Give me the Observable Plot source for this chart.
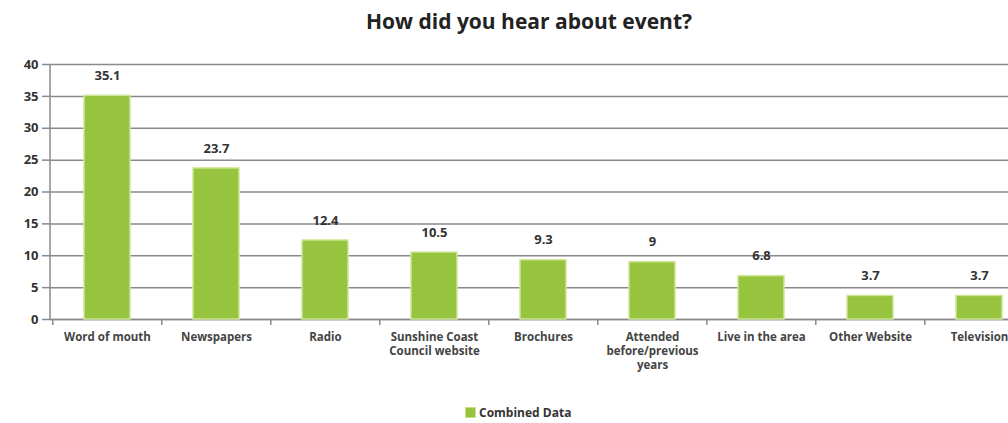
<!DOCTYPE html>
<html><head><meta charset="utf-8">
<script src="https://cdn.jsdelivr.net/npm/d3@7"></script>
<script src="https://cdn.jsdelivr.net/npm/@observablehq/plot@0.6"></script>
<style>
html,body{margin:0;padding:0;background:#fff;overflow:hidden;width:1008px;height:423px;}
#title{position:absolute;left:0;top:7px;width:1058px;text-align:center;font:bold 21px "Open Sans",sans-serif;color:#222;}
#chart{position:absolute;left:0;top:45px;}
#legend{position:absolute;left:465px;top:404px;font:bold 12px "Open Sans",sans-serif;color:#333;display:flex;align-items:center;}
#legend span.sw{display:inline-block;width:9px;height:9px;background:#97c43f;border:1px solid #c8e08a;margin-right:3px;}
</style></head>
<body>
<div id="title">How did you hear about event?</div>
<div id="chart"></div>
<div id="legend"><span class="sw"></span>Combined Data</div>
<script>
const categories = ["Word of mouth","Newspapers","Radio","Sunshine Coast\nCouncil website","Brochures","Attended\nbefore/previous\nyears","Live in the area","Other Website","Television"];
const values = [35.1,23.7,12.4,10.5,9.3,9,6.8,3.7,3.7];
const yTicks = [0,5,10,15,20,25,30,35,40];

const data = categories.map((c,i)=>({category:c, value:values[i]}));

const W = 1040, H = 350, ML = 50, MR = 5, MT = 19, MB = 76;
const band = (W - ML - MR) / categories.length;

const yAxisLine = (index, scales, values, dims) => {
  const g = d3.create("svg:line")
    .attr("x1", ML).attr("x2", ML)
    .attr("y1", scales.y(0)).attr("y2", scales.y(40))
    .attr("stroke", "#8a8a8a").attr("stroke-width", 1.5);
  return g.node();
};

const chart = Plot.plot({
  width: W,
  height: H,
  marginTop: MT,
  marginBottom: MB,
  marginLeft: ML,
  marginRight: MR,
  style: {fontFamily: "'Open Sans', sans-serif", maxWidth: "none", overflow: "visible"},
  x: {domain: categories, paddingInner: 0.58, paddingOuter: 0.29, axis: null, label: null},
  y: {domain: [0,40], ticks: yTicks, axis: null, label: null},
  marks: [
    Plot.gridY(yTicks, {stroke: "#8a8a8a", strokeOpacity: 1, strokeWidth: 1.5}),
    Plot.ruleY([0], {stroke: "#8a8a8a", strokeWidth: 1.5}),
    yAxisLine,
    Plot.axisY({ticks: yTicks, tickSize: 8, tickPadding: 4, fontSize: 13, fontWeight: "bold", stroke:"#8a8a8a", strokeWidth: 1.5, fill: "#333", label: null}),
    Plot.barY(data, {x: "category", y: "value", fill: "#97c43f", stroke: "#cfe69a", strokeWidth: 1.5}),
    Plot.text(data, {x: "category", y: "value", text: d => String(d.value), dy: -20, fontSize: 13, fontWeight: "bold", fill: "#333"}),
    Plot.axisX({tickSize: 0, tickPadding: 12, fontSize: 11.5, fontWeight: "bold", fill: "#444", lineHeight: 1.2, textAnchor:"middle", label: null}),
    Plot.axisX({tickSize: 6, text: null, dx: -band/2, stroke: "#8a8a8a", strokeWidth: 1.5, label: null})
  ]
});
document.getElementById("chart").appendChild(chart);
</script>
</body></html>
